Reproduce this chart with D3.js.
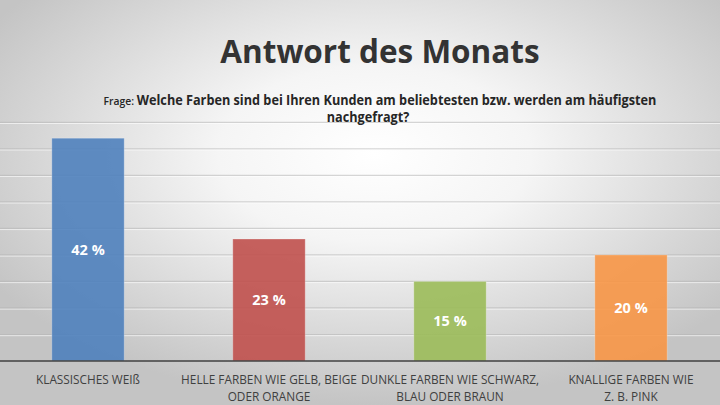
<!DOCTYPE html>
<html>
<head>
<meta charset="utf-8">
<script src="https://cdn.jsdelivr.net/npm/d3@7"></script>
<style>
  html, body { margin: 0; padding: 0; }
  svg { display: block; }
</style>
</head>
<body>
<div id="chart"></div>
<script>
// Data
const categories = ["KLASSISCHES WEIß", "HELLE FARBEN WIE GELB, BEIGE ODER ORANGE",
    "DUNKLE FARBEN WIE SCHWARZ, BLAU ODER BRAUN", "KNALLIGE FARBEN WIE Z. B. PINK"];
const labelLines = [["KLASSISCHES WEIß"], ["HELLE FARBEN WIE GELB, BEIGE", "ODER ORANGE"],
    ["DUNKLE FARBEN WIE SCHWARZ,", "BLAU ODER BRAUN"], ["KNALLIGE FARBEN WIE", "Z. B. PINK"]];
const values = [42, 23, 15, 20];
const barColors = ["#4f81bd", "#c0504d", "#9bbb59", "#f79646"];
const gridTicks = [5, 10, 15, 20, 25, 30, 35, 40, 45];

const W = 720, H = 405;
const font = "'Open Sans', sans-serif";

const svg = d3.select("#chart").append("svg")
    .attr("width", W).attr("height", H);

// squeeze a text horizontally around its anchor x so it looks like the narrow original font
function squeeze(sel, cx, s) {
    sel.attr("transform", `translate(${cx},0) scale(${s},1) translate(${-cx},0)`);
}

// background: soft radial gradient, white in the middle, grey at the edges
const defs = svg.append("defs");
const rg = defs.append("radialGradient").attr("id", "bg")
    .attr("cx", "52%").attr("cy", "38%").attr("r", "62%");
rg.append("stop").attr("offset", "0%").attr("stop-color", "#ffffff");
rg.append("stop").attr("offset", "35%").attr("stop-color", "#f5f5f5");
rg.append("stop").attr("offset", "100%").attr("stop-color", "#c4c4c4");
svg.append("rect").attr("width", W).attr("height", H).attr("fill", "url(#bg)");

// scales
const x = d3.scaleBand().domain(categories).range([-2.5, 721.5]).paddingInner(0.6).paddingOuter(0.3);
const y = d3.scaleLinear().domain([0, 45]).range([361, 122.3]);

// gridlines
const grid = svg.append("g");
grid.selectAll("line.g").data(gridTicks).join("line")
    .attr("x1", 0).attr("x2", W)
    .attr("y1", d => y(d)).attr("y2", d => y(d))
    .attr("stroke", "#b4b4b4").attr("stroke-opacity", 0.55).attr("stroke-width", 1.2);
grid.selectAll("line.h").data(gridTicks).join("line")
    .attr("x1", 0).attr("x2", W)
    .attr("y1", d => y(d) + 1.2).attr("y2", d => y(d) + 1.2)
    .attr("stroke", "#ffffff").attr("stroke-opacity", 0.6).attr("stroke-width", 1);

// bars
svg.append("g").selectAll("rect").data(values).join("rect")
    .attr("x", (d, i) => x(categories[i]))
    .attr("width", x.bandwidth())
    .attr("y", d => y(d))
    .attr("height", d => y(0) - y(d))
    .attr("fill", (d, i) => barColors[i])
    .attr("fill-opacity", 0.9)
    .attr("stroke", "#ffffff").attr("stroke-opacity", 0.25).attr("stroke-width", 1);

// value labels, centred in each bar
svg.append("g").selectAll("text").data(values).join("text")
    .attr("x", (d, i) => x(categories[i]) + x.bandwidth() / 2)
    .attr("y", d => (y(d) + y(0)) / 2)
    .attr("dy", "0.36em")
    .attr("text-anchor", "middle")
    .attr("font-family", font)
    .attr("font-weight", "bold")
    .attr("font-size", 14.5)
    .attr("fill", "#ffffff")
    .text(d => d + " %");

// baseline
svg.append("line")
    .attr("x1", 0).attr("x2", W).attr("y1", y(0)).attr("y2", y(0))
    .attr("stroke", "#404040").attr("stroke-width", 1.5);

// category labels, one text per line, narrowed to the width of the original condensed face
const catG = svg.append("g");
labelLines.forEach((lines, i) => {
    const cx = x(categories[i]) + x.bandwidth() / 2;
    lines.forEach((line, j) => {
        const t = catG.append("text")
            .attr("x", cx).attr("y", 384 + j * 17)
            .attr("text-anchor", "middle")
            .attr("font-family", font)
            .attr("font-size", 12.5)
            .attr("fill", "#404040")
            .text(line);
        squeeze(t, cx, 0.945);
    });
});

// title
svg.append("text")
    .attr("x", 380).attr("y", 63)
    .attr("text-anchor", "middle")
    .attr("font-family", font)
    .attr("font-weight", "bold")
    .attr("font-size", 31.5)
    .attr("fill", "#333333")
    .text("Antwort des Monats");

// question
const q = svg.append("text")
    .attr("x", 380).attr("y", 105)
    .attr("text-anchor", "middle")
    .attr("font-family", font)
    .attr("fill", "#262626");
q.append("tspan").attr("font-size", 11).attr("font-weight", 600).text("Frage: ");
q.append("tspan").attr("font-size", 13.5).attr("font-weight", "bold")
    .text("Welche Farben sind bei Ihren Kunden am beliebtesten bzw. werden am häufigsten");
squeeze(q, 380, 0.94);
const q2 = svg.append("text")
    .attr("x", 368).attr("y", 122)
    .attr("text-anchor", "middle")
    .attr("font-family", font)
    .attr("font-size", 13.5).attr("font-weight", "bold")
    .attr("fill", "#262626")
    .text("nachgefragt?");
squeeze(q2, 368, 0.94);
</script>
</body>
</html>
